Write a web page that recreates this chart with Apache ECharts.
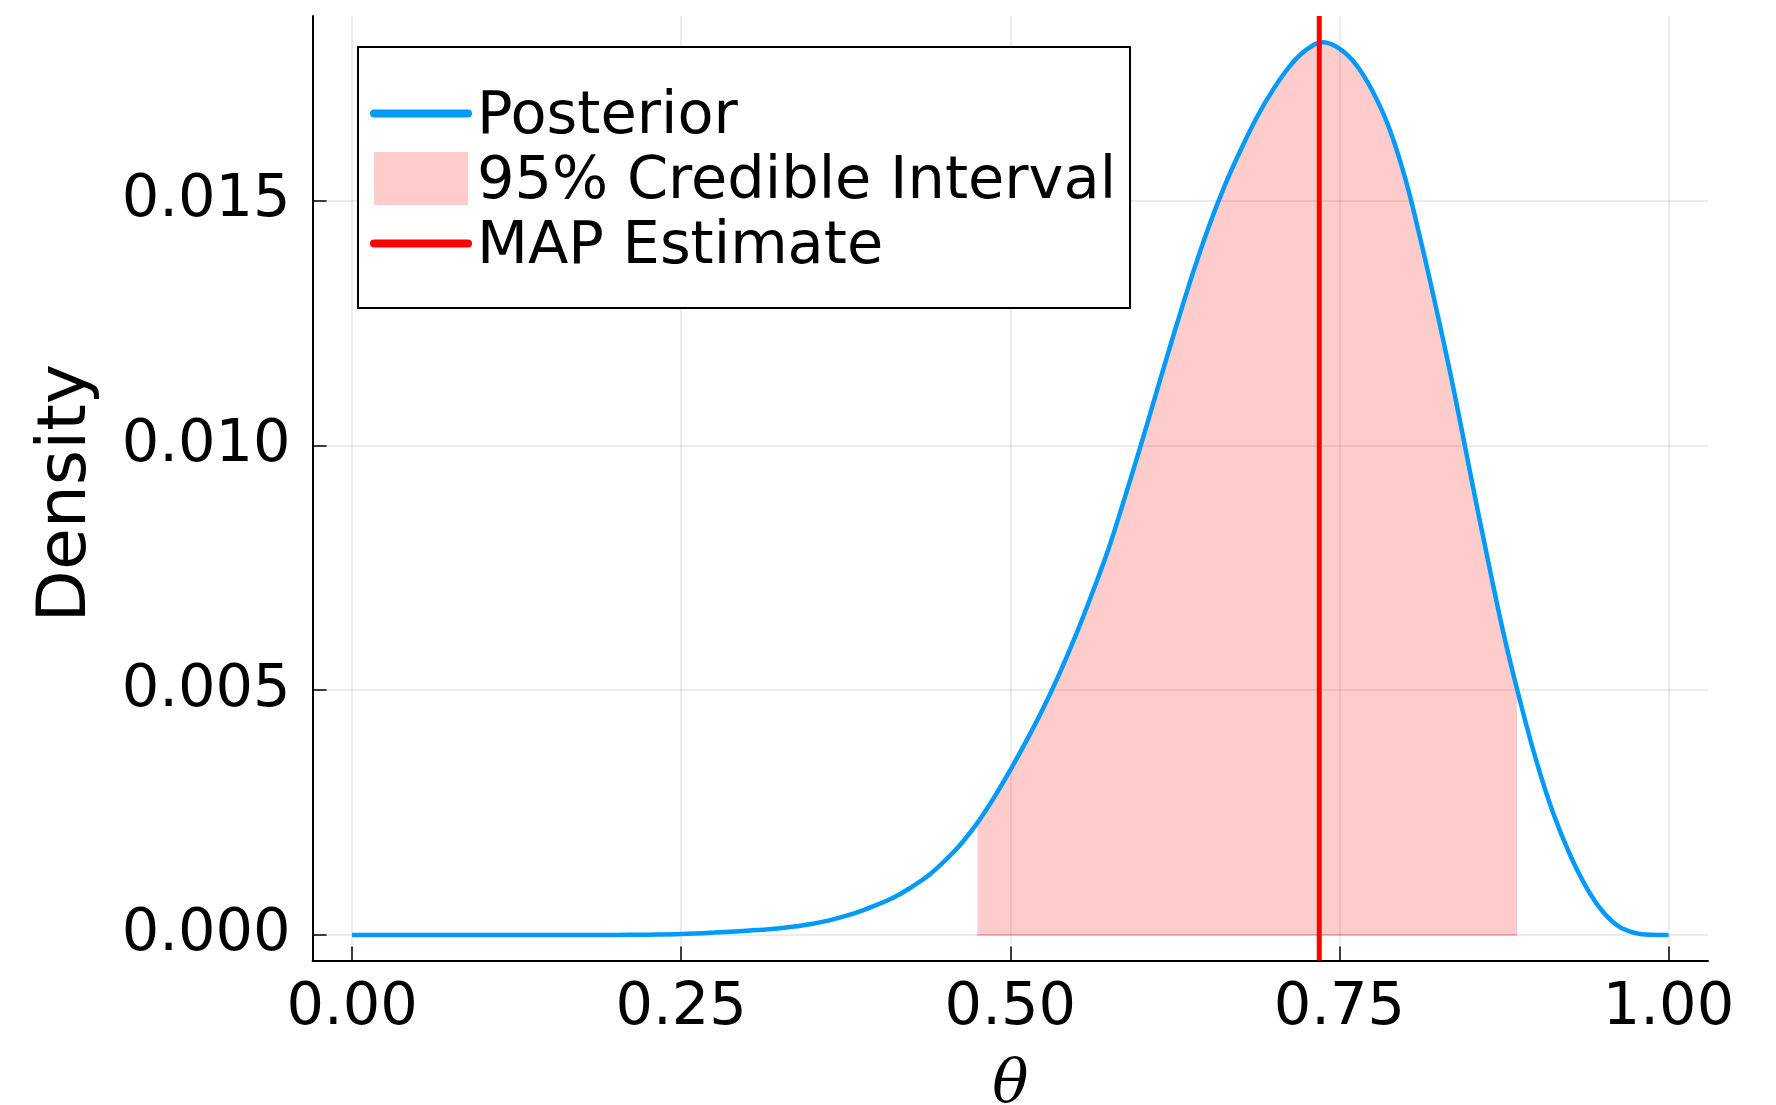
<!DOCTYPE html>
<html>
<head>
<meta charset="utf-8">
<script src="https://cdn.jsdelivr.net/npm/echarts@6/dist/echarts.min.js"></script>
<style>
html,body{margin:0;padding:0;background:#fff;}
#c{width:1776px;height:1105px;}
</style>
</head>
<body>
<div id="c"></div>
<script>
// ---- data ----
const theta = [0, 0.025, 0.05, 0.075, 0.1, 0.125, 0.15, 0.175, 0.2, 0.225, 0.25, 0.275,
  0.3, 0.3125, 0.325, 0.3375, 0.35, 0.3625, 0.375, 0.3875,
  0.4, 0.4125, 0.425, 0.4375, 0.45, 0.4625, 0.475, 0.4875,
  0.5, 0.5125, 0.525, 0.5375, 0.55, 0.5625, 0.575, 0.5875,
  0.6, 0.6125, 0.625, 0.6375, 0.65, 0.6625, 0.675, 0.6875,
  0.7, 0.7125, 0.725, 0.7375, 0.75, 0.7625, 0.775, 0.7875,
  0.8, 0.8125, 0.825, 0.8375, 0.85, 0.8625, 0.875, 0.8875,
  0.9, 0.9125, 0.925, 0.9375, 0.95, 0.9625, 0.975, 0.9875, 1.0];
const density = [0, 0, 0, 0, 0, 0, 0, 0.000001, 0.000003, 0.000008, 0.00002, 0.00005,
  0.00009, 0.00011, 0.00014, 0.00018, 0.00023, 0.0003, 0.00039, 0.0005,
  0.00063, 0.00078, 0.00098, 0.00121, 0.00151, 0.00186, 0.00229, 0.0028,
  0.00337, 0.00398, 0.00463, 0.00535, 0.00614, 0.007, 0.00792, 0.00898,
  0.01008, 0.01122, 0.01234, 0.01342, 0.01441, 0.01528, 0.01603, 0.01671,
  0.01728, 0.01775, 0.01808, 0.01823, 0.0181, 0.01778, 0.01724, 0.0165,
  0.01545, 0.0141, 0.01262, 0.01105, 0.00935, 0.0077, 0.00612, 0.00475,
  0.00352, 0.00248, 0.00165, 0.00098, 0.00048, 0.00017, 0.00004, 0.000005, 0];
const ciBounds = [0.475, 0.885];
const ciBoundDensity = [0.00229, 0.00506];
const mapEstimate = [0.7347];
const xTicks = [0, 0.25, 0.5, 0.75, 1.0];
const yTicks = [0, 0.005, 0.010, 0.015];
const xRange = [-0.03, 1.03];
const yRange = [-0.00052, 0.01877];
const seriesNames = ['Posterior', '95% Credible Interval', 'MAP Estimate'];

// ---- chart ----
const FONT = 'DejaVu Sans';
const BLUE = '#009AFA';
const RED = '#FF0000';
const FILL = 'rgba(255,0,0,0.2)';

const curve = theta.map((t, i) => [t, density[i]]);
const ciData = [[ciBounds[0], ciBoundDensity[0]]]
  .concat(curve.filter(p => p[0] > ciBounds[0] && p[0] < ciBounds[1]))
  .concat([[ciBounds[1], ciBoundDensity[1]]]);

// legend icons (bounding box 102 x 61, icon centred slightly above the text middle)
const capsule = 'path://M0,0 M102,61 M4,22.5 L98,22.5 A4,4 0 0 1 98,30.5 L4,30.5 A4,4 0 0 1 4,22.5 Z';
const patch = 'path://M0,0 M102,61 M4,0 L98,0 L98,53 L4,53 Z';

const chart = echarts.init(document.getElementById('c'), null, {renderer: 'canvas'});
chart.setOption({
  animation: false,
  backgroundColor: '#fff',
  grid: {left: 312.6, right: 68, top: 15.9, bottom: 144.5, containLabel: false, outerBoundsMode: 'none'},
  xAxis: {
    type: 'value', min: xRange[0], max: xRange[1],
    name: 'θ', nameLocation: 'middle', nameGap: 96,
    nameTextStyle: {fontFamily: 'DejaVu Serif', fontStyle: 'italic', fontSize: 60, color: '#000'},
    axisLine: {show: true, onZero: false, lineStyle: {color: '#000', width: 2}},
    axisTick: {show: true, inside: true, length: 14, customValues: xTicks, lineStyle: {color: '#000', width: 1.5}},
    axisLabel: {customValues: xTicks, formatter: v => v.toFixed(2), fontFamily: FONT, fontSize: 59, color: '#000', margin: 19},
    splitLine: {show: true, lineStyle: {color: 'rgba(0,0,0,0.1)', width: 1.5}}
  },
  yAxis: {
    type: 'value', min: yRange[0], max: yRange[1],
    name: 'Density', nameLocation: 'middle', nameGap: 211, nameRotate: 90,
    nameTextStyle: {fontFamily: FONT, fontSize: 68, color: '#000', padding: [0, 10, 0, 0]},
    axisLine: {show: true, onZero: false, lineStyle: {color: '#000', width: 2}},
    axisTick: {show: true, inside: true, length: 14, customValues: yTicks, lineStyle: {color: '#000', width: 1.5}},
    axisLabel: {customValues: yTicks, formatter: v => v.toFixed(3), fontFamily: FONT, fontSize: 59, color: '#000', margin: 22},
    splitLine: {show: true, lineStyle: {color: 'rgba(0,0,0,0.1)', width: 1.5}}
  },
  legend: {
    orient: 'vertical', left: 358, top: 47,
    padding: [38, 14, 28, 12],
    itemGap: 0, itemWidth: 102, itemHeight: 61,
    backgroundColor: '#fff', borderColor: '#000', borderWidth: 2, borderRadius: 0,
    selectedMode: false,
    textStyle: {fontFamily: FONT, fontSize: 59, color: '#000', lineHeight: 65},
    data: [
      {name: seriesNames[0], icon: capsule, itemStyle: {color: BLUE, borderWidth: 0}},
      {name: seriesNames[1], icon: patch, itemStyle: {color: FILL, borderWidth: 0}},
      {name: seriesNames[2], icon: capsule, itemStyle: {color: RED, borderWidth: 0}}
    ]
  },
  series: [
    {
      name: seriesNames[1], type: 'line', data: ciData, smooth: 0.4,
      showSymbol: false, silent: true, z: 1,
      lineStyle: {width: 0, color: FILL},
      itemStyle: {color: FILL},
      areaStyle: {color: FILL, opacity: 1}
    },
    {
      name: 'ciBase', type: 'line', data: [[ciBounds[0], 0], [ciBounds[1], 0]],
      showSymbol: false, silent: true, z: 1,
      lineStyle: {width: 2, color: 'rgba(255,0,0,0.22)'}
    },
    {
      name: seriesNames[0], type: 'line', data: curve, smooth: 0.4,
      showSymbol: false, silent: true, z: 3,
      lineStyle: {width: 4.5, color: BLUE}, itemStyle: {color: BLUE}
    },
    {
      name: seriesNames[2], type: 'line',
      data: [[mapEstimate[0], yRange[0]], [mapEstimate[0], yRange[1]]],
      showSymbol: false, silent: true, z: 4,
      lineStyle: {width: 5, color: RED}, itemStyle: {color: RED}
    }
  ]
});
</script>
</body>
</html>
